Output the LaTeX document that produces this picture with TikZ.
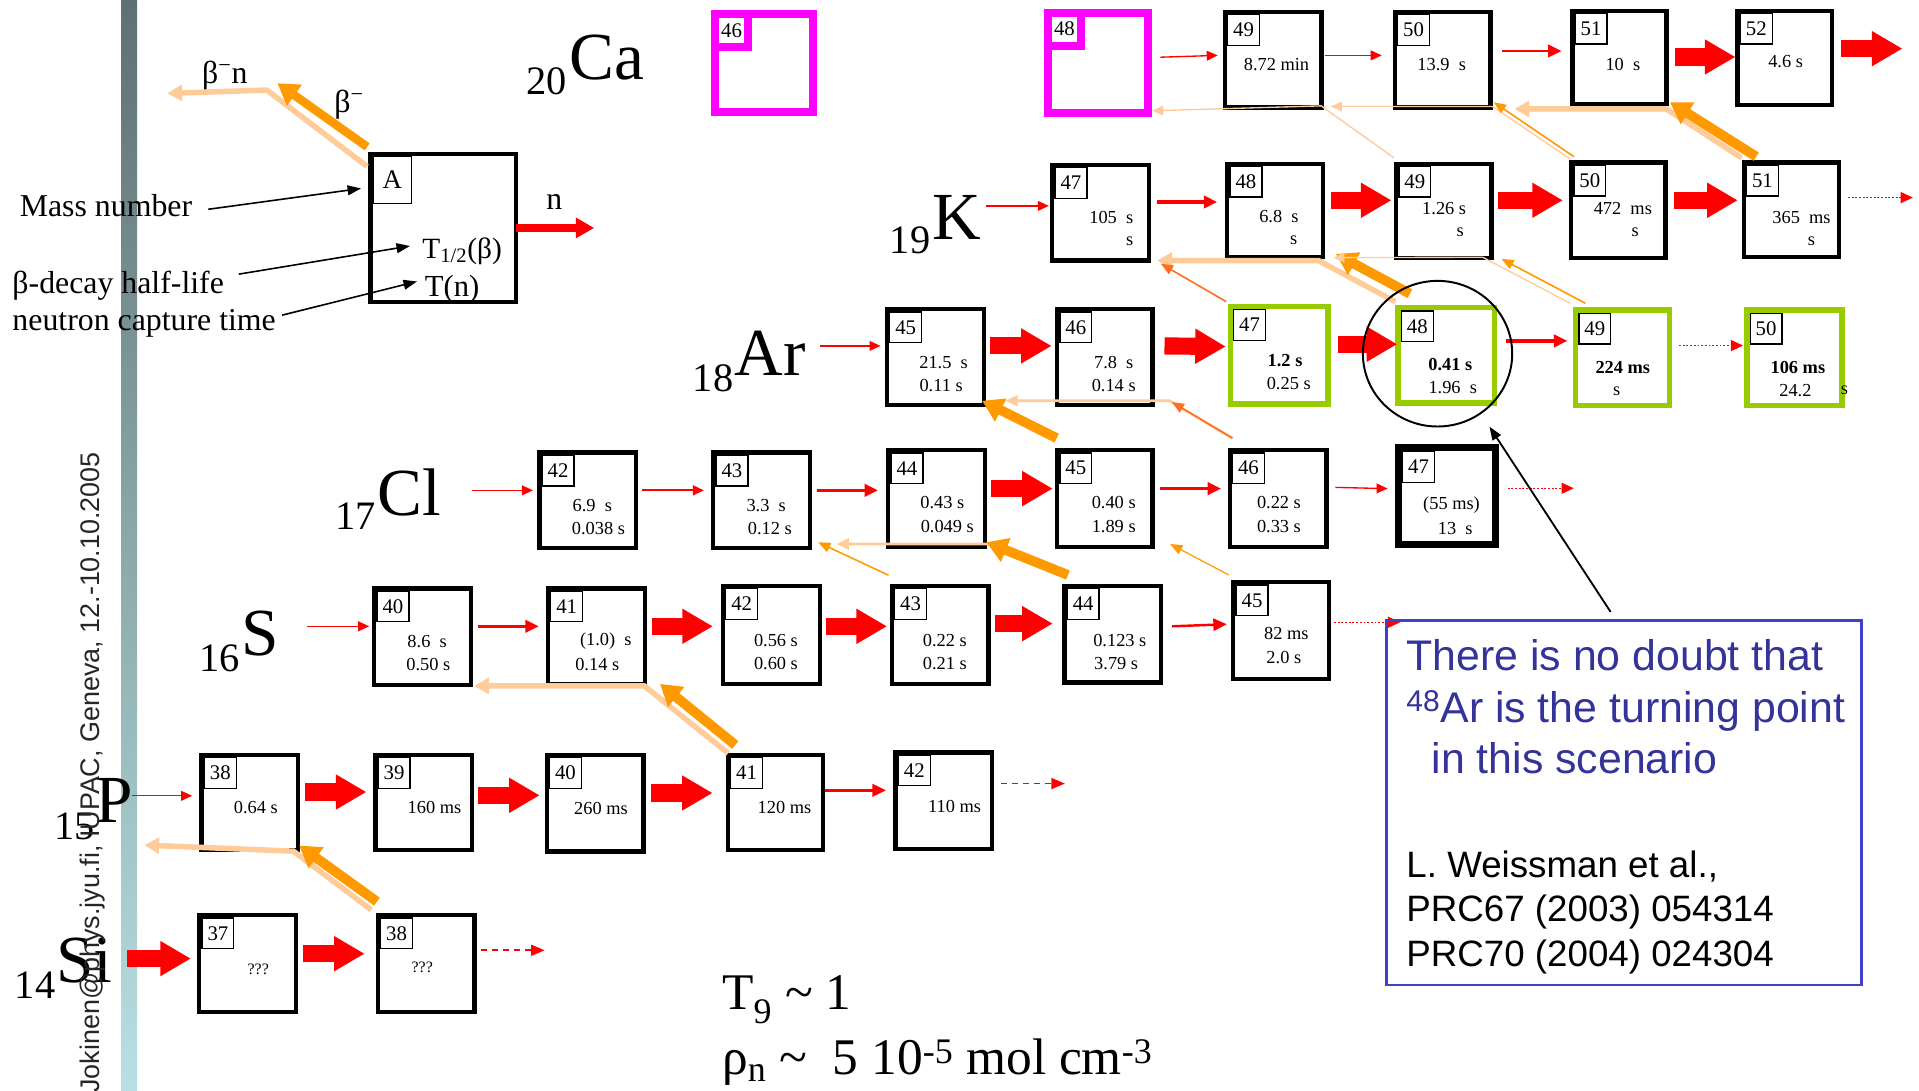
\documentclass[tikz,border=0pt]{standalone}
\usepackage{fontspec}
\setmainfont{Liberation Serif}
\newfontfamily\arialf{Liberation Sans}
\usetikzlibrary{arrows.meta,calc,shapes.geometric}
\newcommand\myfs[1]{\fontsize{#1}{#1}\selectfont}
\definecolor{bor}{RGB}{255,153,0}
\definecolor{bdk}{RGB}{255,110,30}
\definecolor{blt}{RGB}{255,204,153}
\definecolor{mag}{RGB}{255,0,255}
\definecolor{grn}{RGB}{153,204,0}
\definecolor{tblue}{RGB}{51,51,153}
\definecolor{bblue}{RGB}{64,64,204}
\definecolor{bartop}{RGB}{94,112,115}
\definecolor{barbot}{RGB}{184,224,226}
% #1 box style, #2 label style, #3 label shift, #4 name, #5 x1, #6 y1, #7 x2, #8 y2, #9 mass number
\newcommand\nuc[9]{%
  \node[#1, anchor=north west, minimum width={#7-#5-3}, minimum height={#8-#6-3}] (#4) at (#5,#6) {};
  \node[#2, anchor=north west] (#4m) at ([shift={(#3,#3)}]#4.north west) {#9};}
\begin{document}
\begin{tikzpicture}[x=1pt,y=-1pt,
  nbox/.style={draw, line width=3.5pt, fill=white, inner sep=0pt},
  gbox/.style={draw=grn, line width=4.5pt, fill=white, inner sep=0pt},
  mbox/.style={draw=mag, line width=6.5pt, fill=white, inner sep=0pt},
  tbox/.style={draw, line width=5.5pt, fill=white, inner sep=0pt},
  lbox/.style={draw, line width=1.1pt, fill=white, minimum width=26pt, minimum height=25pt, inner sep=0pt, font=\myfs{17}},
  mlbox/.style={draw=mag, line width=6.5pt, fill=white, minimum width=27pt, minimum height=27pt, inner sep=0pt, font=\myfs{17}},
  val/.style={inner sep=0pt, font=\myfs{15}},
  bval/.style={inner sep=0pt, font=\myfs{15}\bfseries},
  sym/.style={inner sep=0pt, anchor=base west, font=\myfs{55}},
  zsub/.style={inner sep=0pt, anchor=base west, font=\myfs{33}},
  lt/.style={inner sep=0pt, anchor=base west, font=\myfs{26}},
  rthin/.style={draw=red, line width=1.1pt, -{Triangle[length=9pt,width=8pt]}},
  rmed/.style={draw=red, line width=2.7pt, -{Triangle[length=11pt,width=10pt]}},
  rbig/.style={draw=red, line width=14pt, -{Triangle[length=25pt,width=27pt]}},
  rdot/.style={draw=red, line width=1pt, dash pattern=on 1.5pt off 1.5pt, -{Triangle[length=10pt,width=9pt]}},
  rdash/.style={draw=red, line width=1.3pt, dash pattern=on 5pt off 4pt, -{Triangle[length=11pt,width=9pt]}},
  rleg/.style={draw=red, line width=7pt, -{Triangle[length=15pt,width=16pt]}},
  obig/.style={draw=bor, line width=8pt, -{Triangle[length=17pt,width=20pt]}},
  othin/.style={draw=bor, line width=1.3pt, -{Triangle[length=10pt,width=8pt]}},
  odk/.style={draw=bdk, line width=1.3pt, -{Triangle[length=10pt,width=8pt]}},
  lthick/.style={draw=blt, line width=4.5pt, -{Triangle[length=12pt,width=13pt]}},
  lmed/.style={draw=blt, line width=2.2pt, -{Triangle[length=10pt,width=9pt]}},
  lthin/.style={draw=blt, line width=1.1pt, -{Triangle[length=9pt,width=8pt]}},
  ptr/.style={draw=black, line width=1.3pt, -{Triangle[length=11pt,width=8pt]}}]
\useasboundingbox (0,0) rectangle (1568,891);
\fill[white] (0,0) rectangle (1568,891);
\shade[top color=bartop, bottom color=barbot] (99,0) rectangle (112,891);

% ---------- boxes ----------
\nuc{mbox}{mlbox}{0}{ca46}{581}{8}{664}{91}{46}
\nuc{mbox}{mlbox}{0}{ca48}{853}{7}{938}{92}{48}
\nuc{nbox}{lbox}{3.5}{ca49}{999}{8}{1081}{89}{49}
\nuc{nbox}{lbox}{3.5}{ca50}{1138}{8}{1219}{89}{50}
\nuc{nbox}{lbox}{3.5}{ca51}{1283}{7}{1363}{86}{51}
\nuc{nbox}{lbox}{3.5}{ca52}{1418}{7}{1498}{87}{52}

\nuc{nbox}{lbox}{3.5}{k47}{858}{133}{940}{214}{47}
\nuc{nbox}{lbox}{3.5}{k48}{1001}{132}{1082}{211}{48}
\nuc{nbox}{lbox}{3.5}{k49}{1139}{132}{1220}{212}{49}
\nuc{nbox}{lbox}{3.5}{k50}{1282}{131}{1362}{212}{50}
\nuc{nbox}{lbox}{3.5}{k51}{1423}{131}{1504}{211}{51}

\nuc{nbox}{lbox}{3.5}{ar45}{723}{251}{805}{332}{45}
\nuc{nbox}{lbox}{3.5}{ar46}{862}{251}{943}{332}{46}
\nuc{gbox}{lbox}{4.5}{ar47}{1003}{248}{1086}{331}{47}
\nuc{gbox}{lbox}{4.5}{ar48}{1140}{249}{1222}{330}{48}
\nuc{gbox}{lbox}{4.5}{ar49}{1285}{251}{1365}{332}{49}
\nuc{gbox}{lbox}{4.5}{ar50}{1425}{251}{1506}{332}{50}

\nuc{nbox}{lbox}{3.5}{cl42}{439}{368}{521}{449}{42}
\nuc{nbox}{lbox}{3.5}{cl43}{581}{368}{663}{449}{43}
\nuc{nbox}{lbox}{3.5}{cl44}{724}{366}{806}{448}{44}
\nuc{nbox}{lbox}{3.5}{cl45}{862}{366}{943}{448}{45}
\nuc{nbox}{lbox}{3.5}{cl46}{1003}{366}{1085}{448}{46}
\nuc{tbox}{lbox}{5.5}{cl47}{1140}{363}{1222}{445}{47}

\nuc{nbox}{lbox}{3.5}{s40}{304}{479}{386}{561}{40}
\nuc{nbox}{lbox}{3.5}{s41}{446}{479}{528}{560}{41}
\nuc{nbox}{lbox}{3.5}{s42}{589}{477}{671}{560}{42}
\nuc{nbox}{lbox}{3.5}{s43}{727}{477}{809}{560}{43}
\nuc{nbox}{lbox}{3.5}{s44}{868}{477}{950}{559}{44}
\nuc{nbox}{lbox}{3.5}{s45}{1006}{474}{1087}{556}{45}

\nuc{nbox}{lbox}{3.5}{p38}{163}{615}{245}{696}{38}
\nuc{nbox}{lbox}{3.5}{p39}{305}{615}{387}{696}{39}
\nuc{nbox}{lbox}{3.5}{p40}{445}{615}{527}{697}{40}
\nuc{nbox}{lbox}{3.5}{p41}{593}{615}{674}{696}{41}
\nuc{nbox}{lbox}{3.5}{p42}{730}{613}{812}{695}{42}

\nuc{nbox}{lbox}{3.5}{si37}{161}{746}{243}{828}{37}
\nuc{nbox}{lbox}{3.5}{si38}{307}{746}{389}{828}{38}

% ---------- box contents ----------
\node[val] (ca49a) at (1043,53) {8.72 min};
\node[val] (ca50a) at (1178,53) {13.9~~s};
\node[val] (ca51a) at (1326,53) {10~~s};
\node[val] (ca52a) at (1459,50) {4.6 s};

\node[val] (k47a) at (908,178) {105~~s};
\node[val] (k47b) at (923,197) {s};
\node[val] (k48a) at (1045,177) {6.8~~s};
\node[val] (k48b) at (1057,196) {s};
\node[val] (k49a) at (1180,170) {1.26 s};
\node[val] (k49b) at (1193,190) {s};
\node[val] (k50a) at (1326,170) {472~~ms};
\node[val] (k50b) at (1336,190) {s};
\node[val] (k51a) at (1472,178) {365~~ms};
\node[val] (k51b) at (1480,197) {s};

\node[val] (ar45a) at (771,296) {21.5~~s};
\node[val] (ar45b) at (769,315) {0.11 s};
\node[val] (ar46a) at (910,296) {7.8~~s};
\node[val] (ar46b) at (910,315) {0.14 s};
\node[bval] (ar47a) at (1050,295) {1.2 s};
\node[val] (ar47b) at (1053,313) {0.25 s};
\node[bval] (ar48a) at (1185,298) {0.41 s};
\node[val] (ar48b) at (1187,317) {1.96~~s};
\node[bval] (ar49a) at (1326,300) {224 ms};
\node[val] (ar49b) at (1321,320) {s};
\node[bval] (ar50a) at (1469,300) {106 ms};
\node[val] (ar50b) at (1467,319) {24.2};
\node[val] (ar50c) at (1507,319) {s};

\node[val] (cl42a) at (484,413) {6.9~~s};
\node[val] (cl42b) at (489,432) {0.038 s};
\node[val] (cl43a) at (626,413) {3.3~~s};
\node[val] (cl43b) at (629,432) {0.12 s};
\node[val] (cl44a) at (770,411) {0.43 s};
\node[val] (cl44b) at (774,430) {0.049 s};
\node[val] (cl45a) at (910,411) {0.40 s};
\node[val] (cl45b) at (910,430) {1.89 s};
\node[val] (cl46a) at (1045,411) {0.22 s};
\node[val] (cl46b) at (1045,430) {0.33 s};
\node[val] (cl47a) at (1186,413) {(55 ms)};
\node[val] (cl47b) at (1189,432) {13~~s};

\node[val] (s40a) at (349,524) {8.6~~s};
\node[val] (s40b) at (350,543) {0.50 s};
\node[val] (s41a) at (495,524) {(1.0)~~s};
\node[val] (s41b) at (488,543) {0.14 s};
\node[val] (s42a) at (634,523) {0.56 s};
\node[val] (s42b) at (634,542) {0.60 s};
\node[val] (s43a) at (772,523) {0.22 s};
\node[val] (s43b) at (772,542) {0.21 s};
\node[val] (s44a) at (915,523) {0.123 s};
\node[val] (s44b) at (912,542) {3.79 s};
\node[val] (s45a) at (1051,518) {82 ms};
\node[val] (s45b) at (1049,537) {2.0 s};

\node[val] (p38a) at (209,660) {0.64 s};
\node[val] (p39a) at (355,660) {160 ms};
\node[val] (p40a) at (491,661) {260 ms};
\node[val] (p41a) at (641,660) {120 ms};
\node[val] (p42a) at (780,659) {110 ms};

\node[val, font=\myfs{13}] (si37a) at (211,792) {???};
\node[val, font=\myfs{13}] (si38a) at (345,790) {???};

% ---------- element labels ----------
\node[zsub] (zCa) at (430,77) {20};  \node[sym] (sCa) at (465,65) {Ca};
\node[zsub] (zK) at (727,207) {19};   \node[sym] (sK) at (762,196) {K};
\node[zsub] (zAr) at (566,320) {18};  \node[sym] (sAr) at (600,307) {Ar};
\node[zsub] (zCl) at (274,433) {17};  \node[sym] (sCl) at (308,421) {Cl};
\node[zsub] (zS) at (163,549) {16};   \node[sym] (sS) at (197,536) {S};
\node[zsub] (zP) at (44,686) {15};    \node[sym] (sP) at (78,672) {P};
\node[zsub] (zSi) at (12,816) {14};   \node[sym] (sSi) at (46,803) {Si};

% ---------- neutron captures ----------
\draw[rthin] ($(ca48.east)+(6.6,-4.5)$) -- ($(ca49.west)+(-4,-3.5)$);
\draw[rthin] ($(ca49.east)+(1,-3.5)$) -- ($(ca50.west)+(-9,-3.5)$);
\draw[rmed, line width=2.2pt] ($(ca50.east)+(8,-7.1)$) -- ($(ca51.west)+(-7,-5.1)$);
\draw[rbig] ($(ca51.east)+(5.4,-0.2)$) -- ($(ca52.west)+(0,-0.7)$);
\draw[rbig] ($(ca52.east)+(6,-7.5)$) -- ++(50,0);

\draw[rthin] ($(k47.west)+(-52,-5.5)$) -- ($(k47.west)+(-1,-5.5)$);
\draw[rmed] ($(k47.east)+(4.5,-8.7)$) -- ($(k48.west)+(-6.4,-6.7)$);
\draw[rbig] ($(k48.east)+(4.7,-8.1)$) -- ($(k49.west)+(-2,-8.6)$);
\draw[rbig] ($(k49.east)+(3.6,-8.6)$) -- ($(k50.west)+(-5,-8.1)$);
\draw[rbig] ($(k50.east)+(5.5,-8.1)$) -- ($(k51.west)+(-3.1,-7.6)$);
\draw[rdot] ($(k51.east)+(5.5,-9.8)$) -- ++(53,0);

\draw[rthin] ($(ar45.west)+(-53,-9.1)$) -- ($(ar45.west)+(-3.5,-9.1)$);
\draw[rbig] ($(ar45.east)+(3.7,-9.1)$) -- ($(ar46.west)+(-2.7,-9.1)$);
\draw[rbig] ($(ar46.east)+(8,-9.1)$) -- ($(ar47.west)+(-1.4,-7.1)$);
\draw[rbig] ($(ar47.east)+(5.6,-9)$) -- ($(ar48.west)+(1.7,-9)$);
\draw[rmed, line width=3.2pt] ($(ar48.east)+(7.4,-11.7)$) -- ($(ar49.west)+(-4.3,-13.7)$);
\draw[rdot] ($(ar49.east)+(5.5,-9.9)$) -- ($(ar50.west)+(-0.7,-9.9)$);

\draw[rthin] ($(cl42.west)+(-53,-8.1)$) -- ($(cl42.west)+(-3.5,-8.1)$);
\draw[rthin, line width=1.6pt] ($(cl42.east)+(3.2,-8.1)$) -- ($(cl43.west)+(-5.8,-8.1)$);
\draw[rmed] ($(cl43.east)+(4.1,-8.1)$) -- ($(cl44.west)+(-6.6,-6.6)$);
\draw[rbig] ($(cl44.east)+(3.3,-8)$) -- ($(cl45.west)+(-1.8,-8)$);
\draw[rmed] ($(cl45.east)+(4.1,-8)$) -- ($(cl46.west)+(-5.2,-8)$);
\draw[rthin] ($(cl46.east)+(5.7,-9)$) -- ($(cl47.west)+(-6.2,-6)$);
\draw[rdot] ($(cl47.east)+(7.4,-6.3)$) -- ++(54,0);

\draw[rthin] ($(s40.west)+(-53,-8.5)$) -- ($(s40.west)+(-2.3,-8.5)$);
\draw[rmed, line width=2.3pt] ($(s40.east)+(3.9,-8.5)$) -- ($(s41.west)+(-5.8,-8)$);
\draw[rbig] ($(s41.east)+(4.2,-8)$) -- ($(s42.west)+(-6.5,-7)$);
\draw[rbig] ($(s42.east)+(3.4,-7)$) -- ($(s43.west)+(-2.2,-7)$);
\draw[rbig] ($(s43.east)+(3.7,-9.2)$) -- ($(s44.west)+(-7.8,-8.7)$);
\draw[rmed, line width=2pt] ($(s44.east)+(7.1,-6.5)$) -- ($(s45.west)+(-3.6,-5.2)$);
\draw[rdot] ($(s45.east)+(2.6,-6.8)$) -- ++(54,0);

\draw[rthin] ($(p38.west)+(-55,-5.5)$) -- ($(p38.west)+(-6,-5.5)$);
\draw[rbig] ($(p38.east)+(3.7,-8.6)$) -- ($(p39.west)+(-5.6,-8.6)$);
\draw[rbig] ($(p39.east)+(3.3,-5.9)$) -- ($(p40.west)+(-4,-6.4)$);
\draw[rbig] ($(p40.east)+(4.7,-8.3)$) -- ($(p41.west)+(-10.7,-7.8)$);
\draw[rmed, line width=2.3pt] ($(p41.east)+(0,-10)$) -- ($(p42.west)+(-6.1,-8.5)$);
\draw[rdash] ($(p42.east)+(5.6,-14)$) -- ++(52,0);

\draw[rbig] ($(si37.west)+(-57,-4)$) -- ($(si37.west)+(-5,-4)$);
\draw[rbig] ($(si37.east)+(4.2,-8)$) -- ($(si38.west)+(-9,-8)$);
\draw[rdash] ($(si38.east)+(3.5,-10.8)$) -- ++(52,0);

% ---------- beta decays ----------
\draw[lthick] ($(k51.north west)+(0,-2)$) -- ($(ca51.south east)+(-2,2.5)$) -- ($(ca50.south east)+(18,-0.5)$);
\draw[obig] ($(k51.north west)+(12,-3)$) -- ($(ca51.south east)+(1,-3)$);
\draw[lthin] ($(k50.north west)+(1,-1)$) -- ($(ca50.south east)+(0,-2.5)$) -- ($(ca49.south east)+(6,-2.5)$);
\draw[othin] ($(k50.north west)+(4,-3)$) -- ($(ca50.south east)+(1,-6)$);
\draw[lthin] ($(k49.north west)+(0,-3)$) -- ($(ca49.south east)+(-2,-3)$) -- ($(ca48.south east)+(0,-5)$);

\draw[lthick] ($(ar48.north west)+(0,-2.5)$) -- ($(k48.south east)+(-5,1.5)$) -- ($(k47.south east)+(5,-1.5)$);
\draw[obig] ($(ar48.north west)+(12,-9)$) -- ($(k48.south east)+(9,-4)$);
\draw[odk] ($(ar47.north west)+(-1,-1.5)$) -- ($(k47.south east)+(8,1)$);
\draw[lthin] ($(ar49.north west)+(-2,-3.2)$) -- ($(k49.south east)+(-9,-2.3)$) -- ($(k48.south east)+(7,-1)$);
\draw[othin] ($(ar49.north west)+(10.4,-3.2)$) -- ($(k49.south east)+(6.3,-1)$);

\draw[lmed] ($(cl46.north west)+(4,-8)$) -- ($(ar46.south east)+(12,-5)$) -- ($(ar45.south east)+(16,-5)$);
\draw[odk] ($(cl46.north west)+(4,-8)$) -- ($(ar46.south east)+(14,-4)$);
\draw[obig] ($(cl45.north west)+(1.4,-8)$) -- ($(ar45.south east)+(-3,-5)$);

\draw[lmed] ($(s44.north west)+(4.6,-7.2)$) -- ($(cl44.south east)+(0,-4)$) -- ($(cl43.south east)+(20,-5)$);
\draw[obig] ($(s44.north west)+(4.6,-7.2)$) -- ($(cl44.south east)+(-0.5,-5.4)$);
\draw[othin] ($(s43.north west)+(-1,-7)$) -- ($(cl43.south east)+(5,-6.4)$);
\draw[othin, line width=1pt] ($(s45.north west)+(-2,-4.2)$) -- ($(cl45.south east)+(12.6,-4)$);

\draw[lthick] ($(p41.north west)+(2,0.5)$) -- ($(s41.south east)+(-2,0)$) -- ($(s40.south east)+(1,-1)$);
\draw[obig] ($(p41.north west)+(7.8,-6.3)$) -- ($(s41.south east)+(10.8,-1.7)$);

\draw[lthick] ($(si38.north west)+(-3.6,-2.5)$) -- ($(p38.south east)+(-5.7,-1)$) -- ($(p38.south west)+(-45,-6)$);
\draw[obig] ($(si38.north west)+(1,-9.3)$) -- ($(p38.south east)+(-1,-5.6)$);

% ---------- legend ----------
\node[nbox, anchor=north west, minimum width=119, minimum height=121] (lg) at (301,124) {};
\node[lbox, anchor=north west, minimum width=31, minimum height=38, font=\myfs{22}] (lgA) at ([shift={(3.5,3.5)}]lg.north west) {A};
\node[inner sep=0pt, anchor=base west, font=\myfs{24}] (t12) at (345,211) {T\textsubscript{1/2}(β)};
\node[inner sep=0pt, anchor=base west, font=\myfs{25}] (tn) at (347,242) {T(n)};
\node[lt] (mass) at (16,177) {Mass number};
\node[lt] (bdec) at (10,240) {β-decay half-life};
\node[lt] (ncap) at (10,270) {neutron capture time};
\node[inner sep=0pt, font=\myfs{26}] (nlab) at (453,165) {n};
\node[lt] (bnl) at (165,68) {β\textsuperscript{−}n};
\node[lt] (bl) at (273,92) {β\textsuperscript{−}};
\draw[lthick] ($(lg.north west)+(-1,12)$) -- ($(lg.north west)+(-83,-50.4)$) -- ($(lg.north west)+(-164.3,-47.7)$);
\draw[obig, line width=7pt] ($(lg.north west)+(-1,-4)$) -- ($(lg.north west)+(-74.3,-56)$);
\draw[rleg] ($(lg.east)+(-2,0)$) -- ++(64,0);
\draw[ptr] ($(mass.base east)+(13,-6)$) -- ($(lg.north west)+(-6,30)$);
\draw[ptr] ($(bdec.base east)+(12,-16)$) -- ($(lg.north west)+(34,77)$);
\draw[ptr] ($(ncap.base east)+(5,-12.5)$) -- ($(lg.north west)+(39.7,106)$);

% ---------- note ----------
\node[ellipse, draw, line width=1.6pt, minimum width=122, minimum height=119, inner sep=0pt] (circ) at (1174.6,289) {};
\node[draw=bblue, line width=2pt, anchor=north west, minimum width=388, minimum height=298, inner sep=0pt] (note) at (1132,506) {};
\draw[ptr, line width=1.5pt] ($(note.north)+(-11,-6)$) -- ($(circ.center)+(42.4,59.6)$);
\node[inner sep=0pt, anchor=base west, font=\arialf\myfs{35}, text=tblue] (n1) at (1149,548) {There is no doubt that};
\node[inner sep=0pt, anchor=base west, font=\arialf\myfs{35}, text=tblue] (n2) at (1149,590.5) {\textsuperscript{48}Ar is the turning point};
\node[inner sep=0pt, anchor=base west, font=\arialf\myfs{35}, text=tblue] (n3) at (1169.6,632) {in this scenario};
\node[inner sep=0pt, anchor=base west, font=\arialf\myfs{30}] (n4) at (1149,717) {L. Weissman et al.,};
\node[inner sep=0pt, anchor=base west, font=\arialf\myfs{30}] (n5) at (1149,753) {PRC67 (2003) 054314};
\node[inner sep=0pt, anchor=base west, font=\arialf\myfs{30}] (n6) at (1149,790) {PRC70 (2004) 024304};

% ---------- conditions ----------
\node[inner sep=0pt, anchor=base west, font=\myfs{42}] (temp) at (590,825) {T\textsubscript{9} \textasciitilde{} 1};
\node[inner sep=0pt, anchor=base west, font=\myfs{42}] (dens) at (590,878) {ρ\textsubscript{n} \textasciitilde\ \ 5 10\textsuperscript{-5} mol cm\textsuperscript{-3}};

% ---------- footer ----------
\node[inner sep=0pt, rotate=90, anchor=base west, font=\arialf\myfs{22}, text=black!85] (jok) at (81,893) {Jokinen@phys.jyu.fi, IUPAC, Geneva, 12.-10.10.2005};
\end{tikzpicture}
\end{document}
